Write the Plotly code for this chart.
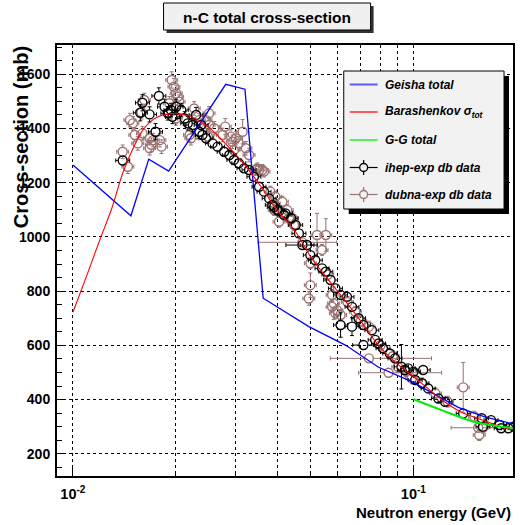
import math
import plotly.graph_objects as go

# ---------------- data ----------------
geisha_e = [0.0100, 0.0148, 0.0167, 0.0191, 0.0281, 0.0320, 0.0362, 0.0403, 0.0493,
            0.0631, 0.0723, 0.0790, 0.0989, 0.1184, 0.1354, 0.1620, 0.1970]
geisha_xs = [1265, 1078, 1287, 1243, 1563, 1545, 774, 737, 669,
             601, 552, 519, 466, 410, 371, 336, 310]

bar_e = [0.0100, 0.0110, 0.0120, 0.0130, 0.0140, 0.0150, 0.0160, 0.0170, 0.0180, 0.0190,
         0.0200, 0.0220, 0.0250, 0.0280, 0.0315, 0.0350, 0.0400, 0.0450, 0.0500, 0.0560,
         0.0630, 0.0700, 0.0790, 0.0900, 0.1000, 0.1240, 0.1400, 0.1620, 0.1800, 0.1970]
bar_xs = [722, 860, 990, 1105, 1235, 1325, 1392, 1428, 1446, 1453,
          1455, 1445, 1405, 1345, 1275, 1200, 1095, 1020, 925, 845,
          765, 690, 600, 530, 485, 390, 350, 322, 300, 288]

gg_e = [0.100, 0.121, 0.151, 0.198]
gg_xs = [401, 361, 318, 294]

ihep_e = [0.0140, 0.01577, 0.0160, 0.01679, 0.01748, 0.01788, 0.01858, 0.0190, 0.0194, 0.0196,
          0.0201, 0.0208, 0.0213, 0.02174, 0.0225, 0.0230, 0.0235, 0.0238, 0.0240, 0.0246,
          0.0257, 0.0266, 0.0278, 0.0288, 0.0297, 0.0307, 0.0318, 0.0329, 0.0340, 0.0352,
          0.0364, 0.0377, 0.0385, 0.0390, 0.0398, 0.0403, 0.0417, 0.0421, 0.0437, 0.0451,
          0.0461, 0.0472, 0.0487, 0.0498, 0.0515, 0.0539, 0.0553, 0.0571, 0.0590, 0.0611,
          0.0611, 0.0638, 0.0660, 0.0660, 0.0690, 0.0713, 0.0713, 0.0755, 0.0772, 0.0790,
          0.0814, 0.0852, 0.0883, 0.0922, 0.0944, 0.0965, 0.1000, 0.1012, 0.1060, 0.1068,
          0.1105, 0.1184, 0.1238, 0.1400, 0.1586, 0.1600, 0.1690, 0.1790, 0.1810, 0.1900,
          0.1970]
ihep_xs = [1282, 1458, 1495, 1452, 1388, 1520, 1480, 1456, 1468, 1443,
           1480, 1468, 1437, 1419, 1413, 1450, 1388, 1413, 1376, 1364,
           1345, 1333, 1314, 1302, 1284, 1272, 1253, 1247, 1222, 1185,
           1167, 1142, 1118, 1110, 1099, 1095, 1081, 1087, 1069, 1044,
           1013, 970, 970, 933, 914, 884, 872, 841, 810, 786,
           675, 779, 742, 669, 700, 675, 601, 656, 620, 607,
           589, 570, 552, 521, 509, 515, 503, 472, 460, 509,
           441, 404, 392, 349, 331, 300, 324, 306, 294, 294,
           300]
ihep_dxs = [15, 30, 30, 28, 30, 30, 28, 25, 25, 25,
            28, 25, 25, 25, 25, 28, 25, 15, 15, 15,
            15, 15, 15, 15, 15, 15, 15, 15, 15, 15,
            15, 15, 15, 15, 15, 15, 15, 15, 15, 15,
            15, 12, 15, 15, 15, 15, 15, 15, 15, 15,
            45, 15, 15, 33, 15, 15, 12, 15, 15, 15,
            15, 15, 15, 82, 15, 15, 15, 15, 15, 15,
            15, 15, 15, 15, 15, 15, 15, 15, 15, 15,
            15]
# energy-bin half widths (0 = default narrow bin)
ihep_de = [0, 0, 0, 0, 0, 0, 0, 0, 0, 0,
           0, 0, 0, 0, 0, 0, 0, 0, 0, 0,
           0, 0, 0, 0, 0, 0, 0, 0, 0, 0,
           0, 0, 0, 0, 0, 0, 0, 0, 0, 0,
           0, 0.0050, 0, 0, 0, 0, 0, 0, 0, 0,
           0, 0, 0, 0, 0, 0, 0.0050, 0, 0, 0,
           0, 0, 0, 0, 0, 0, 0, 0, 0, 0,
           0, 0, 0, 0, 0, 0, 0, 0, 0, 0,
           0]

dubna_e = [0.0140, 0.0145, 0.0147, 0.0150, 0.0152, 0.0155, 0.0159, 0.0160, 0.0162, 0.0168,
           0.0168, 0.0170, 0.0172, 0.0180, 0.0182, 0.0192, 0.0195, 0.0198, 0.0201, 0.0201,
           0.0203, 0.0205, 0.0220, 0.0222, 0.0227, 0.0235, 0.0246, 0.0249, 0.0251, 0.0251,
           0.0260, 0.0275, 0.0280, 0.0291, 0.0294, 0.0297, 0.0301, 0.0307, 0.0315, 0.0322,
           0.0329, 0.0345, 0.0348, 0.0352, 0.0360, 0.0364, 0.0380, 0.0390, 0.0390, 0.0393,
           0.0403, 0.0412, 0.0426, 0.0431, 0.0441, 0.0446, 0.0472, 0.0493, 0.0498, 0.0498,
           0.0521, 0.0539, 0.0553, 0.0560, 0.0577, 0.0577, 0.0583, 0.0590, 0.0596, 0.0611,
           0.0640, 0.0675, 0.0700, 0.0740, 0.0740, 0.0800, 0.0845, 0.0870, 0.0900, 0.0950,
           0.0989, 0.1060, 0.1160, 0.1260, 0.1400, 0.1510, 0.1550, 0.1560, 0.1600]
dubna_xs = [1314, 1259, 1431, 1419, 1376, 1345, 1460, 1382, 1505, 1364,
            1327, 1340, 1357, 1357, 1333, 1493, 1579, 1554, 1530, 1437,
            1517, 1499, 1376, 1364, 1474, 1431, 1431, 1370, 1456, 1413,
            1401, 1376, 1407, 1370, 1351, 1320, 1364, 1345, 1388, 1327,
            1302, 1247, 1253, 1247, 1247, 1241, 1167, 1099, 1124, 1148,
            1056, 1130, 1099, 1069, 1069, 1044, 980, 773, 903, 822,
            1007, 952, 1007, 860, 786, 742, 755, 718, 730, 712,
            760, 724, 690, 669, 552, 600, 499, 560, 521, 505,
            478, 460, 423, 392, 445, 337, 296, 269, 296]
dubna_dxs = [25, 25, 25, 25, 25, 25, 25, 25, 25, 25,
             25, 25, 25, 25, 25, 25, 30, 30, 30, 25,
             30, 25, 25, 25, 25, 25, 25, 25, 25, 25,
             25, 25, 30, 25, 25, 25, 25, 25, 45, 25,
             25, 20, 20, 20, 20, 20, 20, 20, 20, 20,
             20, 20, 20, 20, 20, 20, 15, 25, 20, 45,
             80, 20, 60, 20, 20, 20, 60, 20, 20, 20,
             20, 20, 20, 20, 15, 20, 15, 20, 20, 20,
             20, 20, 20, 20, 92, 20, 15, 20, 20]
dubna_de_minus = [0, 0, 0, 0, 0, 0, 0, 0, 0, 0,
                  0, 0, 0, 0, 0, 0, 0, 0, 0, 0,
                  0, 0, 0, 0, 0, 0, 0, 0, 0, 0,
                  0, 0, 0, 0, 0, 0, 0, 0, 0, 0,
                  0, 0, 0, 0, 0, 0, 0, 0, 0, 0,
                  0, 0, 0, 0, 0, 0, 0.0122, 0, 0, 0,
                  0, 0, 0, 0, 0, 0, 0, 0, 0, 0,
                  0, 0, 0, 0, 0.0170, 0, 0.0155, 0, 0, 0,
                  0, 0, 0, 0, 0, 0, 0.0260, 0, 0]
dubna_de_plus = [0, 0, 0, 0, 0, 0, 0, 0, 0, 0,
                 0, 0, 0, 0, 0, 0, 0, 0, 0, 0,
                 0, 0, 0, 0, 0, 0, 0, 0, 0, 0,
                 0, 0, 0, 0, 0, 0, 0, 0, 0, 0,
                 0, 0, 0, 0, 0, 0, 0, 0, 0, 0,
                 0, 0, 0, 0, 0, 0, 0.0123, 0, 0, 0,
                 0, 0, 0, 0, 0, 0, 0, 0, 0, 0,
                 0, 0, 0, 0, 0.0390, 0, 0.0365, 0, 0, 0,
                 0, 0, 0, 0, 0, 0, 0.0210, 0, 0]

# ---------------- styling ----------------
BROWN = "#9a7272"
SANS = "Liberation Sans, Arial, sans-serif"

W, H = 520, 525
L, R, T, B = 57, 5, 45, 49
PW, PH = W - L - R, H - T - B
XR = [-2.0468, -0.7076]
YR = [118, 1708]
DEC_PER_PX = (XR[1] - XR[0]) / PW
MB_PER_PX = (YR[1] - YR[0]) / PH
MARK_R = 5.0        # px, outer radius of the open circle marker
CAP = 2.0           # px, half length of error-bar end caps
NARROW_BIN = 7.0    # px, half width of default energy bin bar


def px(x):
    return (x - L) / PW


def py(y):
    return (H - B - y) / PH


def error_paths(es, xs, dys, dem, dep, narrow_px):
    """ROOT-like error bars that stop at the marker edge."""
    sx, sy = [], []
    rdec = MARK_R * DEC_PER_PX
    rmb = MARK_R * MB_PER_PX
    cdec = CAP * DEC_PER_PX
    cmb = CAP * MB_PER_PX
    for e, v, dy, m, p in zip(es, xs, dys, dem, dep):
        le = math.log10(e)
        # vertical
        if dy > rmb:
            for sgn in (1, -1):
                sx += [e, e, None]
                sy += [v + sgn * rmb, v + sgn * dy, None]
                sx += [10 ** (le - cdec), 10 ** (le + cdec), None]
                sy += [v + sgn * dy, v + sgn * dy, None]
        # horizontal
        lo = e - m if m > 0 else 10 ** (le - narrow_px * DEC_PER_PX)
        hi = e + p if p > 0 else 10 ** (le + narrow_px * DEC_PER_PX)
        for inner, outer in ((10 ** (le - rdec), lo), (10 ** (le + rdec), hi)):
            if abs(math.log10(outer) - le) > rdec:
                sx += [inner, outer, None]
                sy += [v, v, None]
                sx += [outer, outer, None]
                sy += [v - cmb, v + cmb, None]
    return sx, sy


fig = go.Figure()

for es, vs, dys, dm, dp, col, npx in [
        (dubna_e, dubna_xs, dubna_dxs, dubna_de_minus, dubna_de_plus, BROWN, 6.0),
        (ihep_e, ihep_xs, ihep_dxs, ihep_de, ihep_de, "black", NARROW_BIN)]:
    ex, ey = error_paths(es, vs, dys, dm, dp, npx)
    fig.add_trace(go.Scatter(x=ex, y=ey, mode="lines", connectgaps=False,
                             line=dict(color=col, width=1), hoverinfo="skip",
                             showlegend=False))
    fig.add_trace(go.Scatter(
        x=es, y=vs, mode="markers",
        marker=dict(symbol="circle-open", size=9, color=col,
                    line=dict(width=1.4, color=col)),
        showlegend=False))

fig.add_trace(go.Scatter(x=geisha_e, y=geisha_xs, mode="lines",
                         line=dict(color="#0000ff", width=1.3), showlegend=False))
fig.add_trace(go.Scatter(x=bar_e, y=bar_xs, mode="lines", line_shape="spline",
                         line=dict(color="#ff0000", width=1.1), showlegend=False))
fig.add_trace(go.Scatter(x=gg_e, y=gg_xs, mode="lines", line_shape="spline",
                         line=dict(color="#00ee00", width=2), showlegend=False))

shapes = []
annotations = []

# title box with shadow
shapes.append(dict(type="rect", xref="paper", yref="paper",
                   x0=px(167), x1=px(375), y0=py(33), y1=py(6),
                   fillcolor="#333333", line=dict(width=0)))
shapes.append(dict(type="rect", xref="paper", yref="paper",
                   x0=px(164), x1=px(372), y0=py(30), y1=py(3),
                   fillcolor="#f0f0f0", line=dict(color="black", width=1)))
annotations.append(dict(xref="paper", yref="paper", x=px(268), y=py(17),
                        text="<b>n-C total cross-section</b>", showarrow=False,
                        xanchor="center", yanchor="middle",
                        font=dict(family=SANS, size=15.5, color="black")))

# legend box with shadow
shapes.append(dict(type="rect", xref="paper", yref="paper",
                   x0=px(350), x1=px(511), y0=py(214), y1=py(76),
                   fillcolor="black", line=dict(width=0)))
shapes.append(dict(type="rect", xref="paper", yref="paper",
                   x0=px(345), x1=px(506), y0=py(209), y1=py(71),
                   fillcolor="#f2f2f2", line=dict(color="black", width=1)))

leg_y = [84.5, 112, 140, 167.5, 194.5]
leg_txt = ["Geisha total", "Barashenkov σ<sub>tot</sub>", "G-G total",
           "ihep-exp db data", "dubna-exp db data"]
leg_col = ["#5a5aff", "#ff5a5a", "#5aee5a", "black", BROWN]
for i, (yy, tt, cc) in enumerate(zip(leg_y, leg_txt, leg_col)):
    if i < 3:
        shapes.append(dict(type="line", xref="paper", yref="paper",
                           x0=px(351), x1=px(379), y0=py(yy), y1=py(yy),
                           line=dict(color=cc, width=2)))
    else:
        for x0, x1 in ((351, 360.5), (369.5, 379)):
            shapes.append(dict(type="line", xref="paper", yref="paper",
                               x0=px(x0), x1=px(x1), y0=py(yy), y1=py(yy),
                               line=dict(color=cc, width=1.2)))
        for y0, y1 in ((yy - 7.5, yy - 4.5), (yy + 4.5, yy + 7.5)):
            shapes.append(dict(type="line", xref="paper", yref="paper",
                               x0=px(365), x1=px(365), y0=py(y0), y1=py(y1),
                               line=dict(color=cc, width=1.2)))
        shapes.append(dict(type="circle", xref="paper", yref="paper",
                           x0=px(361), x1=px(369), y0=py(yy + 4), y1=py(yy - 4),
                           line=dict(color=cc, width=1.4)))
    annotations.append(dict(xref="paper", yref="paper", x=px(384), y=py(yy),
                            text="<b><i>" + tt + "</i></b>", showarrow=False,
                            xanchor="left", yanchor="middle",
                            font=dict(family=SANS, size=12, color="black")))

# axis titles
annotations.append(dict(xref="paper", yref="paper", x=px(515), y=py(512),
                        text="<b>Neutron energy (GeV)</b>", showarrow=False,
                        xanchor="right", yanchor="middle",
                        font=dict(family=SANS, size=15, color="black")))
annotations.append(dict(xref="paper", yref="paper", x=px(21), y=py(44),
                        text="<b>Cross-section (mb)</b>", showarrow=False,
                        textangle=-90, xanchor="center", yanchor="top",
                        font=dict(family=SANS, size=20, color="black")))

fig.update_layout(
    width=W, height=H,
    margin=dict(l=L, r=R, t=T, b=B),
    paper_bgcolor="white", plot_bgcolor="white",
    showlegend=False,
    shapes=shapes, annotations=annotations,
    xaxis=dict(
        type="log", range=XR,
        tickmode="array", tickvals=[0.01, 0.1],
        ticktext=["<b>10<sup>-2</sup></b>", "<b>10<sup>-1</sup></b>"],
        ticks="inside", ticklen=9, tickwidth=1, tickcolor="black",
        showgrid=True, gridcolor="black", griddash="dot", gridwidth=1,
        minor=dict(tickmode="array",
                   tickvals=[0.02, 0.03, 0.04, 0.05, 0.06, 0.07, 0.08, 0.09, 0.2],
                   ticks="inside", ticklen=5, tickcolor="black",
                   showgrid=True, gridcolor="black", griddash="dot", gridwidth=1),
        showline=True, linecolor="black", linewidth=2, mirror=True,
        zeroline=False,
        tickfont=dict(family=SANS, size=14.5, color="black"),
        ticklabelstandoff=4,
    ),
    yaxis=dict(
        range=YR,
        tickmode="array", tickvals=[200, 400, 600, 800, 1000, 1200, 1400, 1600],
        ticktext=["<b>%d</b>" % v for v in [200, 400, 600, 800, 1000, 1200, 1400, 1600]],
        ticks="inside", ticklen=9, tickwidth=1, tickcolor="black",
        showgrid=True, gridcolor="black", griddash="dot", gridwidth=1,
        minor=dict(dtick=50, tick0=0, ticks="inside", ticklen=5, tickcolor="black",
                   showgrid=False),
        showline=True, linecolor="black", linewidth=2, mirror=True,
        zeroline=False,
        tickfont=dict(family=SANS, size=14, color="black"),
        ticklabelstandoff=2,
    ),
)

fig.write_html("out.html")
